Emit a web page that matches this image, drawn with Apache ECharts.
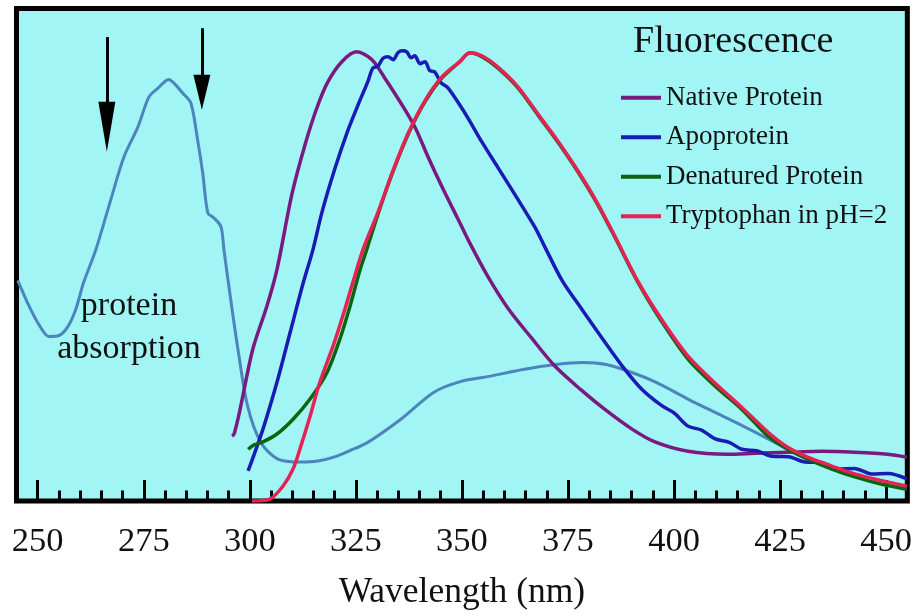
<!DOCTYPE html>
<html>
<head>
<meta charset="utf-8">
<script src="https://cdn.jsdelivr.net/npm/echarts@6/dist/echarts.min.js"></script>
<style>
html,body{margin:0;padding:0;background:#fff;}
#c{width:915px;height:616px;}
</style>
</head>
<body>
<div id="c"></div>
<script>
// ---- data (wavelength nm, relative intensity) ----
const xTickLabels = [250, 275, 300, 325, 350, 375, 400, 425, 450];
const xMinorTicks = [250,255,260,265,270,275,280,285,290,295,300,305,310,315,320,325,330,335,340,345,350,355,360,365,370,375,380,385,390,395,400,405,410,415,420,425,430,435,440,445,450];

const seriesNames = ['Native Protein', 'Apoprotein', 'Denatured Protein', 'Tryptophan in pH=2'];

const absorption = [
  [245.3,44.8],[248,39.5],[250.5,35.5],[252.6,33.4],[255,33.6],[257.1,35.4],[259,39],[260.8,44.3],[263.7,51.0],
  [267.2,61.1],[270.3,69.8],[273.6,75.9],[276.2,82.0],[278.3,83.8],[280.9,85.6],[282.5,84.5],[284.2,82.8],
  [286.1,80.8],[287.7,73.3],[288.9,66.6],[290.1,58.5],[291.5,57.5],[293.2,55.7],[293.9,51.0],[295.5,40.9],
  [297.2,30.8],[299.5,19.2],[302.6,11.9],[306.6,8.5],[312.0,7.9],[316.0,8.1],[319.8,8.9],[323.5,10.2],
  [327.8,11.9],[335.6,16.6],[343.4,22.1],[349.8,24.3],[356.4,25.3],[364.4,26.7],[372.2,27.7],[378.5,28.1],
  [384.0,27.7],[389.4,26.3],[395.8,24.1],[403.5,20.6],[411.6,17.2],[417.7,14.6],[423.3,12.1],[427.6,10.1]
];

const nativeProtein = [
  [295.8,13.2],[296.3,13.6],[297.7,18.6],[300.7,30.8],[304.0,39.5],[306.4,47.0],[309.9,62.2],[313.0,72.3],
  [315.8,79.8],[318.4,85.1],[321.7,89.2],[325.2,91.2],[328.8,89.6],[331.8,85.9],[335.9,80.4],[339.0,75.8],
  [342.0,69.9],[345.3,63.8],[349.1,57.2],[351.9,52.3],[356.1,45.6],[360.8,39.2],[366.5,33.0],[371.9,27.4],
  [378.3,22.4],[383.7,18.6],[390.1,14.6],[395.5,12.0],[403.3,10.1],[412.7,9.5],[419.0,9.7],[426.8,9.9],
  [434.8,10.1],[442.6,9.9],[450.4,9.5],[454.9,8.9]
];

const apoprotein = [
  [299.6,6.1],[303.1,14.6],[306.4,24.1],[309.5,34.2],[312.5,44.0],[314.9,51.1],[317.0,58.6],[320.1,67.6],
  [323.1,75.2],[325.5,80.4],[327.8,85.1],[329.0,87.9],[330.2,88.3],[331.4,89.9],[332.6,90.2],[333.8,89.6],
  [334.9,91.0],[336.0,91.4],[337.0,91.2],[338.0,90.0],[338.9,90.4],[340.1,88.8],[341.3,89.2],[342.4,87.4],
  [343.6,87.1],[345.1,84.9],[346.7,83.9],[349.5,80.4],[351.4,77.8],[354.7,72.9],[358.5,67.7],[362.5,62.2],
  [367.2,55.6],[369.6,51.5],[373.6,44.8],[378.3,38.9],[383.1,33.0],[387.8,27.4],[392.4,22.7],[397.2,19.3],
  [400.0,17.9],[403.3,15.2],[406.5,14.4],[409.7,12.6],[413.0,11.9],[416.0,10.5],[419.5,10.2],[423.1,9.1],
  [427.0,9.0],[430.9,7.9],[434.7,7.8],[438.6,6.5],[442.5,6.6],[446.6,5.5],[450.5,5.6],[454.9,4.5]
];

const denaturedProtein = [
  [299.6,10.5],[301.0,11.4],[303.1,12.0],[306.4,13.6],[310.2,16.6],[314.2,20.7],[318.2,26.1],[321.2,32.8],
  [323.6,39.5],[326.0,47.0],[327.2,50.1],[330.2,58.2],[333.5,66.3],[337.3,74.4],[341.3,81.1],[345.3,85.9],
  [349.5,89.2],[351.9,91.0],[354.7,90.2],[358.5,87.9],[363.2,83.9],[367.9,78.4],[372.6,72.9],[377.3,66.9],
  [382.0,60.2],[386.1,53.5],[391.5,44.4],[397.2,36.3],[403.3,28.8],[409.7,23.3],[416.0,18.6],[422.1,13.2],
  [426.8,10.5],[431.5,8.5],[437.2,6.5],[442.6,4.9],[449.0,3.4],[454.9,2.4]
];

const tryptophan = [
  [300.5,0.0],[304.7,0.4],[307.8,3.0],[310.2,6.5],[311.8,10.5],[314.2,17.2],[316.5,24.1],[319.6,31.4],
  [321.9,37.5],[324.3,44.4],[326.7,51.1],[330.2,58.6],[333.5,66.5],[337.3,74.6],[341.3,81.3],[345.3,86.1],
  [349.5,89.2],[351.9,91.0],[354.7,90.4],[358.5,88.1],[363.2,84.1],[367.9,78.6],[372.6,73.1],[377.3,67.1],
  [382.0,60.4],[386.1,53.7],[391.5,44.6],[397.2,36.7],[403.3,29.4],[409.7,23.9],[416.0,19.0],[422.1,14.0],
  [426.8,10.9],[431.5,8.9],[437.2,7.1],[442.6,5.5],[449.0,4.1],[454.9,3.0]
];

// arrows: [x nm, start value, tip-centre value]
const arrows = [
  [266.3, 94.2, 76.0],
  [288.7, 96.0, 83.0]
];

const colors = {
  absorption: '#4c84bd',
  native: '#7a1a80',
  apo: '#1a1ab4',
  denatured: '#0c640c',
  trp: '#e62254'
};

const serif = '"Liberation Serif", "DejaVu Serif", serif';

const chart = echarts.init(document.getElementById('c'), null, {renderer: 'canvas'});

function lineSeries(name, data, color, width, extra) {
  return Object.assign({
    name: name,
    type: 'line',
    xAxisIndex: 0,
    yAxisIndex: 0,
    data: data,
    color: color,
    showSymbol: false,
    symbol: 'none',
    smooth: 0.3,
    lineStyle: {color: color, width: width},
    itemStyle: {color: color},
    emphasis: {disabled: true},
    animation: false,
    z: 3
  }, extra || {});
}

const arrowLines = arrows.map((a, i) => [
  {coord: [a[0], a[1]], symbol: 'none'},
  {coord: [a[0], a[2]], symbol: 'triangle', symbolSize: i === 0 ? [17, 50] : [17, 35]}
]);

const option = {
  backgroundColor: '#ffffff',
  animation: false,
  grid: {
    left: 16.5, right: 7.5, top: 8.5, bottom: 114,
    show: true,
    backgroundColor: '#a2f5f5',
    borderColor: '#000',
    borderWidth: 5,
    containLabel: false
  },
  title: {
    text: 'Fluorescence',
    left: 633,
    top: 23,
    padding: 0,
    textStyle: {fontFamily: serif, fontSize: 38, fontWeight: 'normal', color: '#111'}
  },
  legend: {
    data: seriesNames,
    orient: 'vertical',
    left: 621,
    top: 78,
    padding: 0,
    itemGap: 0,
    itemWidth: 40,
    itemHeight: 4,
    icon: 'rect',
    textStyle: {fontFamily: serif, fontSize: 27, color: '#111', lineHeight: 39.5},
    selectedMode: false
  },
  xAxis: [
    {
      type: 'value',
      min: 245, max: 455,
      position: 'bottom',
      axisLine: {show: false},
      splitLine: {show: false},
      axisTick: {show: true, inside: true, length: 10.5, customValues: xMinorTicks,
                 lineStyle: {color: '#000', width: 3}},
      axisLabel: {show: true, customValues: xTickLabels, margin: 23,
                  fontFamily: serif, fontSize: 34.5, color: '#111'},
      name: 'Wavelength (nm)',
      nameLocation: 'middle',
      nameGap: 74,
      nameTextStyle: {fontFamily: serif, fontSize: 35.5, color: '#111'}
    },
    {
      type: 'value',
      min: 245, max: 455,
      position: 'bottom',
      axisLine: {show: false},
      splitLine: {show: false},
      axisTick: {show: true, inside: true, length: 21, customValues: xTickLabels,
                 lineStyle: {color: '#000', width: 3}},
      axisLabel: {show: false}
    }
  ],
  yAxis: {
    type: 'value',
    min: 0, max: 100,
    show: false,
    splitLine: {show: false}
  },
  graphic: [
    {
      type: 'text',
      x: 129,
      y: 284.6,
      style: {
        text: 'protein\nabsorption',
        align: 'center',
        verticalAlign: 'top',
        font: '34px ' + serif,
        lineHeight: 43.3,
        fill: '#111'
      },
      z: 10
    }
  ],
  series: [
    lineSeries('protein absorption', absorption, colors.absorption, 3, {
      markLine: {
        silent: true,
        animation: false,
        label: {show: false},
        lineStyle: {color: '#000', width: 3, type: 'solid'},
        emphasis: {disabled: true},
        data: arrowLines
      }
    }),
    lineSeries(seriesNames[0], nativeProtein, colors.native, 3.5),
    lineSeries(seriesNames[1], apoprotein, colors.apo, 3.5),
    lineSeries(seriesNames[2], denaturedProtein, colors.denatured, 3.5),
    lineSeries(seriesNames[3], tryptophan, colors.trp, 3.5)
  ]
};

chart.setOption(option);
</script>
</body>
</html>
